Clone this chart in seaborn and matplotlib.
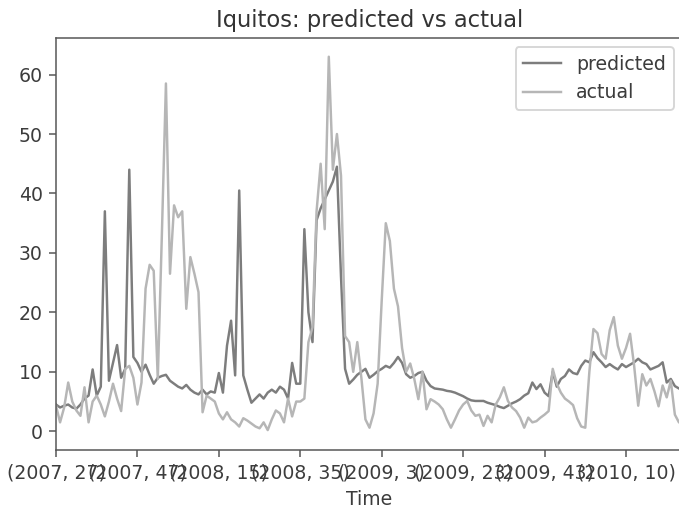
import numpy as np
import pandas as pd
import matplotlib
matplotlib.use("Agg")
import matplotlib.pyplot as plt
import seaborn as sns

# ---- data ----
predicted = [
    4.5, 4.0, 4.3, 4.5, 4.0, 3.8, 4.5, 5.5, 6.0, 10.4,
    6.0, 7.5, 37.0, 8.5, 11.5, 14.5, 9.0, 10.5, 44.0, 12.5,
    11.5, 10.0, 11.2, 9.5, 8.0, 9.0, 9.3, 9.5, 8.5, 8.0,
    7.5, 7.2, 7.8, 7.0, 6.5, 6.2, 7.0, 6.2, 6.7, 6.5,
    9.8, 6.5, 14.4, 18.6, 9.4, 40.5, 9.4, 7.0, 4.8, 5.5,
    6.2, 5.5, 6.5, 7.0, 6.5, 7.5, 7.0, 5.5, 11.5, 8.0,
    8.0, 34.0, 20.0, 15.0, 35.5, 37.5, 39.0, 40.5, 42.0, 44.5,
    26.0, 10.5, 8.0, 8.7, 9.5, 10.0, 10.5, 9.0, 9.5, 10.1,
    10.5, 11.0, 10.7, 11.5, 12.5, 11.5, 9.6, 9.0, 9.3, 9.8,
    10.0, 8.5, 7.6, 7.2, 7.1, 7.0, 6.8, 6.7, 6.5, 6.2,
    5.9, 5.5, 5.2, 5.1, 5.1, 5.1, 4.8, 4.6, 4.4, 4.1,
    3.9, 4.3, 4.7, 5.0, 5.4, 6.0, 6.4, 8.2, 7.1, 7.9,
    6.5, 5.9, 10.0, 7.5, 8.8, 9.3, 10.4, 9.8, 9.6, 11.0,
    11.9, 11.6, 13.3, 12.3, 11.6, 10.8, 11.3, 10.8, 10.4, 11.3,
    10.8, 11.2, 11.6, 12.2, 11.6, 11.3, 10.4, 10.7, 11.0, 11.6,
    8.2, 8.8, 7.6, 7.2, 6.8,
]

actual = [
    4.3, 1.5, 4.0, 8.2, 5.0, 3.5, 2.6, 7.4, 1.5, 5.0,
    6.0, 4.5, 2.5, 5.0, 8.0, 5.5, 3.4, 10.5, 11.0, 9.0,
    4.5, 8.2, 24.0, 28.0, 27.0, 8.8, 33.0, 58.5, 26.5, 38.0,
    36.0, 37.0, 20.6, 29.3, 26.5, 23.4, 3.2, 6.0, 5.5, 5.0,
    3.0, 2.0, 3.2, 2.0, 1.5, 0.8, 2.2, 1.8, 1.3, 0.8,
    0.5, 1.5, 0.2, 2.0, 3.5, 3.0, 1.5, 5.5, 2.5, 5.0,
    5.0, 5.5, 15.0, 17.5, 37.0, 45.0, 34.0, 63.0, 44.0, 50.0,
    43.0, 16.0, 15.0, 10.0, 15.0, 9.0, 2.0, 0.6, 3.0, 8.0,
    22.0, 35.0, 32.0, 24.0, 21.0, 14.0, 10.0, 11.4, 8.8, 5.4,
    10.0, 3.7, 5.4, 5.0, 4.5, 3.7, 2.0, 0.6, 2.0, 3.5,
    4.5, 5.1, 3.5, 2.6, 2.8, 0.9, 2.6, 1.5, 4.5, 5.7,
    7.4, 5.1, 4.0, 3.4, 2.3, 0.6, 2.3, 1.5, 1.7, 2.3,
    2.8, 3.4, 10.5, 8.0, 6.5, 5.5, 5.0, 4.4, 2.2, 0.8,
    0.6, 10.0, 17.2, 16.5, 13.0, 12.2, 17.0, 19.2, 14.4, 12.2,
    14.0, 16.4, 11.0, 4.3, 9.6, 7.7, 8.8, 6.7, 4.2, 7.7,
    5.7, 8.5, 2.8, 1.5, 1.2,
]

tick_labels = ["(2007, 27)", "(2007, 47)", "(2008, 15)", "(2008, 35)",
               "(2009, 3)", "(2009, 23)", "(2009, 43)", "(2010, 10)"]
tick_step = 20

series_names = ["predicted", "actual"]
series_colors = ["#7d7d7d", "#b6b6b6"]

# ---- figure ----
plt.rcParams["font.family"] = ["DejaVu Sans"]
text_color = "#3c3c3c"
plt.rcParams["text.color"] = text_color
plt.rcParams["axes.labelcolor"] = text_color
plt.rcParams["axes.titlecolor"] = "#333333"
plt.rcParams["xtick.color"] = "#555555"
plt.rcParams["ytick.color"] = "#555555"
plt.rcParams["xtick.labelcolor"] = text_color
plt.rcParams["ytick.labelcolor"] = text_color

dpi = 136
fig = plt.figure(figsize=(679 / dpi, 510 / dpi), dpi=dpi)
ax = fig.add_axes([56 / 679, 60 / 510, 627 / 679, 412 / 510])

n = len(predicted)
df = pd.DataFrame({"idx": np.arange(n), "predicted": predicted, "actual": actual})

for name, col in zip(series_names, series_colors):
    sns.lineplot(data=df, x="idx", y=name, ax=ax, color=col, label=name, linewidth=1.3)

ax.set_xlim(0, n - 1)
ax.set_ylim(-3.15, 66.15)
ax.set_xticks(np.arange(len(tick_labels)) * tick_step)
ax.set_xticklabels(tick_labels)
ax.set_xlabel("Time")
ax.set_ylabel("")
ax.set_title("Iquitos: predicted vs actual")
for s in ax.spines.values():
    s.set_color("#555555")

ax.legend(loc="upper right")

fig.savefig("out.png", dpi=dpi)
